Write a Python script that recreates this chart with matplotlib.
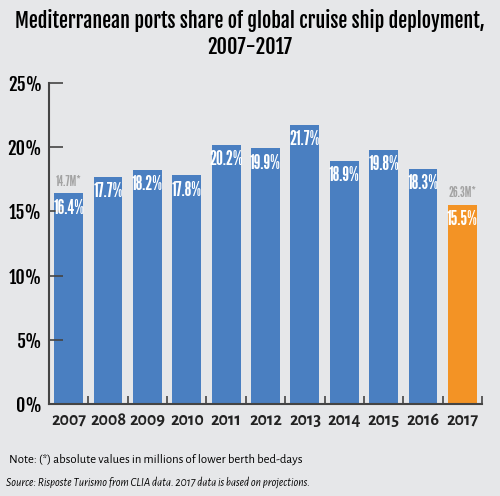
import matplotlib
matplotlib.use('Agg')
import matplotlib.pyplot as plt

years = ['2007', '2008', '2009', '2010', '2011', '2012', '2013', '2014', '2015', '2016', '2017']
share = [16.4, 17.7, 18.2, 17.8, 20.2, 19.9, 21.7, 18.9, 19.8, 18.3, 15.5]
abs_labels = {0: '14.7M*', 10: '26.3M*'}

bg = '#e6e7e9'
blue = '#4a7fc1'
orange = '#f39325'
heavy = ['Fjalla One', 'DejaVu Sans']
tall = ['League Gothic', 'DejaVu Sans']
human = ['Alegreya Sans', 'DejaVu Sans']

fig = plt.figure(figsize=(5, 4.96), dpi=100, facecolor=bg)
ax = fig.add_axes([0.098, 0.185, 0.866, 0.648])
ax.set_facecolor(bg)

colors = [blue] * (len(years) - 1) + [orange]
x = list(range(len(years)))
ax.bar(x, share, width=0.73, color=colors)

for i, v in enumerate(share):
    ax.text(i, v - 0.4, f'{v}%', ha='center', va='top', color='white',
            fontsize=14, family=tall)
for i, t in abs_labels.items():
    ax.text(i, share[i] + 0.35, t, ha='center', va='bottom', color='#a3a3a3',
            fontsize=10, family=tall)

ax.set_xlim(-0.5, len(years) - 0.5)
ax.set_ylim(0, 25)
ax.set_yticks([0, 5, 10, 15, 20, 25])
ax.set_yticklabels(['0%', '5%', '10%', '15%', '20%', '25%'], family=heavy, fontsize=13)
ax.set_xticks(x)
ax.set_xticklabels(years, fontsize=13, fontweight='bold', color='#222222', family=human)
ax.set_xticks([i + 0.5 for i in range(len(years))], minor=True)
ax.tick_params(axis='x', which='major', length=0, pad=5)
ax.tick_params(axis='x', which='minor', direction='in', length=6, width=1.2, color='#444444')
ax.tick_params(axis='y', direction='in', length=10, width=1.2, color='#444444', pad=5)

for s in ['top', 'right']:
    ax.spines[s].set_visible(False)
for s in ['left', 'bottom']:
    ax.spines[s].set_color('#444444')
    ax.spines[s].set_linewidth(1.5)

fig.text(0.5, 0.958, 'Mediterranean ports share of global cruise ship deployment,',
         ha='center', va='center', fontsize=14.5, family=heavy)
fig.text(0.5, 0.905, '2007-2017', ha='center', va='center', fontsize=14.5, family=heavy)
fig.text(0.018, 0.074, 'Note: (*) absolute values in millions of lower berth bed-days',
         ha='left', va='center', fontsize=9.2, family=human)
fig.text(0.012, 0.028, 'Source: Risposte Turismo from CLIA data. 2017 data is based on projections.',
         ha='left', va='center', fontsize=8.3, style='italic', family=human)

fig.savefig('out.png', dpi=100, facecolor=bg)
